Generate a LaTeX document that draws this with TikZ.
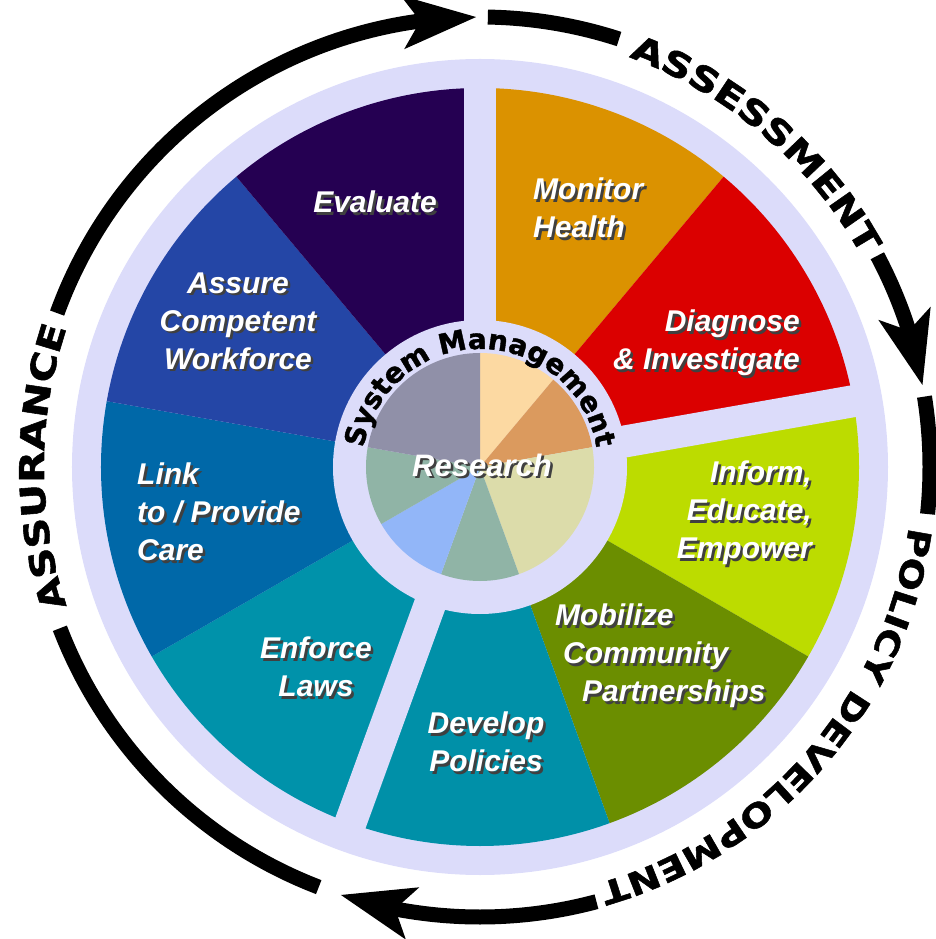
\documentclass[tikz,border=0pt]{standalone}
\usepackage{fontspec}
\setmainfont{Liberation Sans}
\newfontfamily\ringfamily[FakeStretch=1.22, BoldFeatures={FakeBold=1.6}]{DejaVu Sans}
\newfontfamily\hubfamily[BoldFeatures={FakeBold=1.4}]{DejaVu Sans}
\usetikzlibrary{arrows.meta,bending,decorations.text}

\definecolor{lavender}{HTML}{DCDCFA}
\definecolor{monitor}{HTML}{DB9200}
\definecolor{diagnose}{HTML}{DB0000}
\definecolor{inform}{HTML}{BCDC00}
\definecolor{mobilize}{HTML}{6B8E00}
\definecolor{develop}{HTML}{0090A8}
\definecolor{enforce}{HTML}{0092AA}
\definecolor{link}{HTML}{0068A8}
\definecolor{assure}{HTML}{2446A6}
\definecolor{evaluate}{HTML}{250052}
\definecolor{hubpeach}{HTML}{FCD9A2}
\definecolor{hubtan}{HTML}{DB9A5E}
\definecolor{hubkhaki}{HTML}{DCDCAA}
\definecolor{hubsage}{HTML}{90B4A6}
\definecolor{hubsky}{HTML}{92B6F8}
\definecolor{hubslate}{HTML}{9090A8}

\newcommand\ringfont{\ringfamily\bfseries\fontsize{34pt}{34pt}\selectfont}
\newcommand\policyfont{\ringfamily\bfseries\fontsize{32pt}{32pt}\selectfont}
\newcommand\hubfont{\hubfamily\bfseries\fontsize{28pt}{28pt}\selectfont}
\newcommand\labelfont{\fontsize{30pt}{38pt}\selectfont\bfseries\itshape}
\newcommand\researchfont{\fontsize{31pt}{31pt}\selectfont\bfseries\itshape}

\tikzset{
	ringline/.style={line width=15pt},
	ringarrow/.style={ringline, -{Stealth[length=74pt,width=54pt,inset=18pt,line width=0pt]}},
	servicetext/.style={text=white, font=\labelfont, inner sep=0pt},
	serviceshadow/.style={servicetext, text=black!75, xshift=2.5pt, yshift=-2.5pt},
	ringtext/.style={decorate, decoration={text along path, text align=center, text={|\ringfont|#1}}},
	policytext/.style={decorate, decoration={text along path, text align=center, text={|\policyfont|#1}}},
	hubtext/.style={decorate, decoration={text along path, text align=center, text={|\hubfont|#1}}}
}

% name, position, options, text
\newcommand\service[4]{%
	\node[serviceshadow,#3] (#1-shadow) at (#2) {#4};
	\node[servicetext,#3] (#1) at (#2) {#4};
}

\begin{document}
\begin{tikzpicture}[x=1pt,y=1pt]
	\useasboundingbox (-480,-472) rectangle (456,467);
	\def\rdisk{408pt}
	\def\rsec{379pt}
	\def\rhub{147pt}
	\def\rpie{114pt}
	\def\rring{450pt}
	\def\rtext{436pt}
	
	% wheel
	\fill[lavender] (0,0) circle (\rdisk);
	\foreach \a/\c in {90/monitor,50/diagnose,10/inform,-30/mobilize,-70/develop,-110/enforce,-150/link,170/assure,130/evaluate}
		\fill[\c] (0,0) -- (\a:\rsec) arc[start angle=\a, end angle=\a-40, radius=\rsec] -- cycle;
	\foreach \g in {90,10,-110}
		\draw[lavender, line width=32pt] (0,0) -- (\g:400pt);
	\fill[lavender] (0,0) circle (\rhub);
	\foreach \a/\b/\c in {90/50/hubpeach,50/10/hubtan,10/-70/hubkhaki,-70/-110/hubsage,-110/-150/hubsky,-150/-190/hubsage,170/90/hubslate}
		\fill[\c] (0,0) -- (\a:\rpie) arc[start angle=\a, end angle=\b, radius=\rpie] -- cycle;
	\path[hubtext={System Management}] (179:118pt) arc[start angle=179, end angle=1, radius=118pt];
	
	% services
	\service{research}{2,2}{font=\researchfont}{Research}
	\service{evaluate}{-105,265}{}{Evaluate}
	\service{monitor}{53,259}{anchor=west, align=left}{Monitor\\Health}
	\service{diagnose}{320,124}{anchor=east, align=right}{Diagnose\\\& Investigate}
	\service{assure}{-242,146}{align=center}{Assure\\Competent\\Workforce}
	\service{link}{-343,-45}{anchor=west, align=left}{Link\\to / Provide\\Care}
	\service{inform}{332,-46}{anchor=east, align=right}{Inform,\\Educate,\\Empower}
	\service{mobilize}{75,-189}{anchor=west, align=left}{Mobilize\\\hspace*{8pt}Community\\\hspace*{27pt}Partnerships}
	\service{enforce}{-164,-200}{align=center}{Enforce\\Laws}
	\service{develop}{6,-275}{align=center}{Develop\\Policies}
	
	% assessment
	\draw[ringline] (89:\rring) arc[start angle=89, end angle=72, radius=\rring];
	\path[ringtext=ASSESSMENT] (76:\rtext) arc[start angle=76, end angle=23, radius=\rtext];
	\draw[ringarrow] (28:\rring) arc[start angle=28, end angle=10.5, radius=\rring];
	
	% policy development
	\draw[ringline] (9:\rring) arc[start angle=9, end angle=-6, radius=\rring];
	\path[policytext=POLICY DEVELOPMENT] (-2:433pt) arc[start angle=-2, end angle=-80, radius=433pt];
	\draw[ringarrow] (-75:\rring) arc[start angle=-75, end angle=-108, radius=\rring];
	
	% assurance
	\draw[ringline] (-111:\rring) arc[start angle=-111, end angle=-159, radius=\rring];
	\path[ringtext=ASSURANCE] (202:\rtext) arc[start angle=202, end angle=158, radius=\rtext];
	\draw[ringarrow] (160:\rring) arc[start angle=160, end angle=90.5, radius=\rring];
\end{tikzpicture}
\end{document}
